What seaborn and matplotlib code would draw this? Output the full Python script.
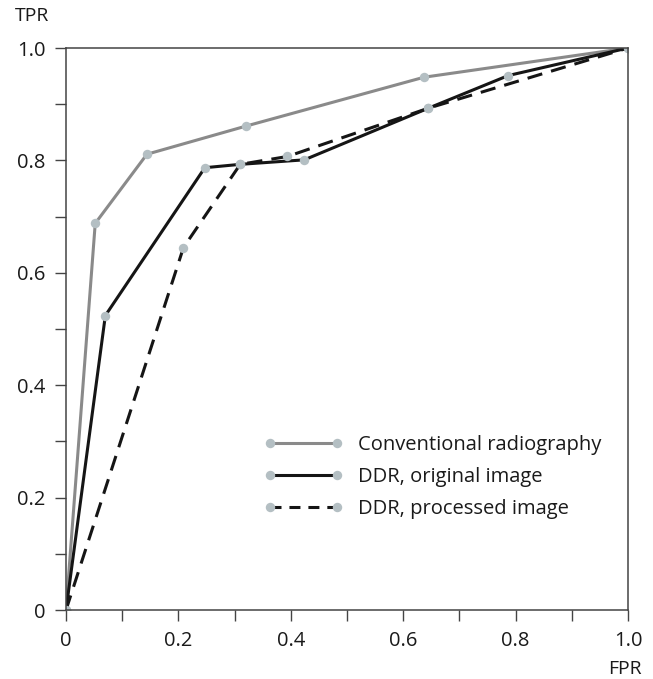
import matplotlib
matplotlib.use("Agg")
import matplotlib.pyplot as plt
import seaborn as sns

# ROC 곡선 데이터
fpr_conv = [0.0, 0.052, 0.144, 0.32, 0.637, 1.0]
tpr_conv = [0.0, 0.688, 0.811, 0.861, 0.948, 1.0]

fpr_orig = [0.0, 0.07, 0.247, 0.31, 0.424, 0.645, 0.787, 1.0]
tpr_orig = [0.0, 0.524, 0.787, 0.793, 0.801, 0.893, 0.951, 1.0]

fpr_proc = [0.0, 0.209, 0.31, 0.394, 0.645, 1.0]
tpr_proc = [0.0, 0.645, 0.793, 0.807, 0.893, 1.0]

labels = ["Conventional radiography", "DDR, original image", "DDR, processed image"]
ticks = [0, 0.2, 0.4, 0.6, 0.8, 1.0]
tick_labels = ["0", "0.2", "0.4", "0.6", "0.8", "1.0"]

sns.set_style("white")
plt.rcParams['font.family'] = ['Open Sans', 'DejaVu Sans']
fs = 14.5

fig = plt.figure(figsize=(6.53, 6.79), dpi=100)
ax = fig.add_axes([0.1011, 0.1016, 0.8606, 0.8277])

# 마커: 연한 회청색 점
mk = dict(marker='o', markersize=6.8, markerfacecolor='#b4bfc3', markeredgewidth=0)
sns.lineplot(x=fpr_conv, y=tpr_conv, ax=ax, sort=False, color='#8a8a8a', linewidth=2.2,
             label=labels[0], **mk)
sns.lineplot(x=fpr_orig, y=tpr_orig, ax=ax, sort=False, color='#151515', linewidth=2.2,
             label=labels[1], **mk)
sns.lineplot(x=fpr_proc, y=tpr_proc, ax=ax, sort=False, color='#151515', linewidth=2.2,
             linestyle=(0, (5.0, 3.0)), label=labels[2], **mk)

ax.set_xlim(0, 1)
ax.set_ylim(0, 1)
ax.set_xticks(ticks)
ax.set_xticklabels(tick_labels)
ax.set_yticks(ticks)
ax.set_yticklabels(tick_labels)
ax.set_xticks([0.1, 0.3, 0.5, 0.7, 0.9], minor=True)
ax.set_yticks([0.1, 0.3, 0.5, 0.7, 0.9], minor=True)
ax.tick_params(which='both', direction='out', length=8, width=1.0, color='#444444',
               labelsize=fs, labelcolor='#1a1a1a', pad=7,
               bottom=True, left=True)
ax.set_xlabel("")
ax.set_ylabel("")

for s in ax.spines.values():
    s.set_visible(True)
    s.set_color('#444444')
    s.set_linewidth(1.1)

fig.text(15 / 653, 1 - 16 / 679, "TPR", fontsize=14, color='#1a1a1a', ha='left', va='center')
fig.text(625 / 653, 1 - 669 / 679, "FPR", fontsize=14, color='#1a1a1a', ha='center', va='center')

leg = ax.legend(loc='upper left', bbox_to_anchor=(0.335, 0.33), frameon=False, numpoints=2,
                handlelength=3.9, handletextpad=0.75, borderpad=0, labelspacing=0.6,
                fontsize=fs, labelcolor='#1a1a1a')
# 범례의 점선은 조금 짧은 간격으로
leg.get_lines()[2].set_linestyle((0, (3.6, 2.6)))

fig.savefig("out.png", dpi=100)
